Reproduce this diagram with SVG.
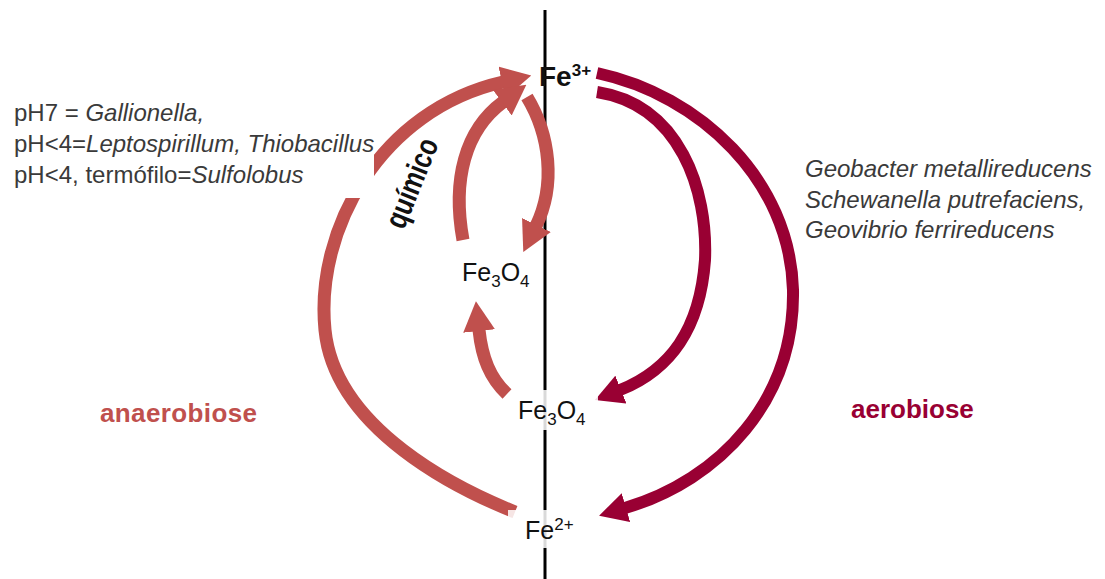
<svg xmlns="http://www.w3.org/2000/svg" width="1105" height="579" viewBox="0 0 1105 579">
<style>
.lbl{font-family:"Liberation Sans",Arial,sans-serif;fill:#111}
.sp{font-family:"Liberation Sans",Arial,sans-serif;font-size:24px;fill:#3a3a3a}
.it{font-style:italic}
.an{fill:none;stroke:#c0504d;stroke-width:13}
.ae{fill:none;stroke:#990033;stroke-width:12}
.bg{fill:#fff}
</style>
<defs>
<marker id="hA" markerUnits="userSpaceOnUse" viewBox="0 0 30 32" markerWidth="30" markerHeight="32" refX="1" refY="16" orient="auto"><path d="M0,0 L30,16 L0,32 z" fill="#c0504d"/></marker>
<marker id="hE" markerUnits="userSpaceOnUse" viewBox="0 0 28 30" markerWidth="28" markerHeight="30" refX="1" refY="15" orient="auto"><path d="M0,0 L28,15 L0,30 z" fill="#990033"/></marker>
</defs>
<rect width="1105" height="579" fill="#fff"/>
<line x1="545" y1="10" x2="545" y2="579" stroke="#000" stroke-width="3"/>
<g id="connectors">
<path id="c-fe2-fe3" class="an" d="M515,512 C460,490 335,430 325,330 C315,230 380,110 503,82" marker-end="url(#hA)"/>
<path id="c-fe3o4u-fe3" class="an" d="M463,240 C452,180 465,130 503,102" marker-end="url(#hA)"/>
<path id="c-fe3-fe3o4u" class="an" d="M527,97 C550,135 556,185 536,226" marker-end="url(#hA)"/>
<path id="c-fe3o4l-fe3o4u" class="an" d="M507,394 C490,378 482,358 479,330" marker-end="url(#hA)"/>
<path id="c-fe3-fe2" class="ae" d="M597,73 C700,95 790,180 793,290 C795,400 720,480 625,508" marker-end="url(#hE)"/>
<path id="c-fe3-fe3o4l" class="ae" d="M597,92 C680,105 708,190 705,260 C700,330 670,370 620,390" marker-end="url(#hE)"/>
</g>
<g id="txt-left">
<rect class="bg" x="8" y="100" width="366" height="98"/>
<text class="sp" x="14" y="121">pH7 = <tspan class="it">Gallionella,</tspan></text>
<text class="sp" x="14" y="152">pH&lt;4=<tspan class="it">Leptospirillum, Thiobacillus</tspan></text>
<text class="sp" x="14" y="183">pH&lt;4, termófilo=<tspan class="it">Sulfolobus</tspan></text>
</g>
<g id="txt-right">
<text class="sp it" x="805" y="177">Geobacter metallireducens</text>
<text class="sp it" x="805" y="208">Schewanella putrefaciens,</text>
<text class="sp it" x="805" y="238">Geovibrio ferrireducens</text>
</g>
<g id="quimico">
<text class="lbl" transform="translate(414,184) rotate(-68)" text-anchor="middle" dy="8" font-size="31" font-weight="bold" fill="#000" textLength="94" lengthAdjust="spacingAndGlyphs">químico</text>
</g>
<g id="n-fe3">
<text class="lbl" x="539" y="86" font-size="28" font-weight="bold" fill="#000">Fe<tspan font-size="17" dy="-10">3+</tspan></text>
</g>
<g id="n-fe3o4-upper">
<text class="lbl" x="462" y="281" font-size="25">Fe<tspan font-size="17" dy="6">3</tspan><tspan dy="-6">O</tspan><tspan font-size="17" dy="6">4</tspan></text>
</g>
<g id="n-fe3o4-lower">
<rect class="bg" x="512" y="390" width="86" height="40" opacity="0.85"/>
<text class="lbl" x="518" y="419" font-size="25">Fe<tspan font-size="17" dy="6">3</tspan><tspan dy="-6">O</tspan><tspan font-size="17" dy="6">4</tspan></text>
</g>
<g id="n-fe2">
<rect class="bg" x="508" y="510" width="90" height="38" opacity="0.85"/>
<text class="lbl" x="525" y="539" font-size="25">Fe<tspan font-size="17" dy="-9">2+</tspan></text>
</g>
<g id="lbl-anaerobiose">
<text class="lbl" x="100" y="422" font-size="26" font-weight="bold" style="fill:#c0504d" textLength="157">anaerobiose</text>
</g>
<g id="lbl-aerobiose">
<text class="lbl" x="851" y="418" font-size="26" font-weight="bold" style="fill:#990033">aerobiose</text>
</g>
</svg>
